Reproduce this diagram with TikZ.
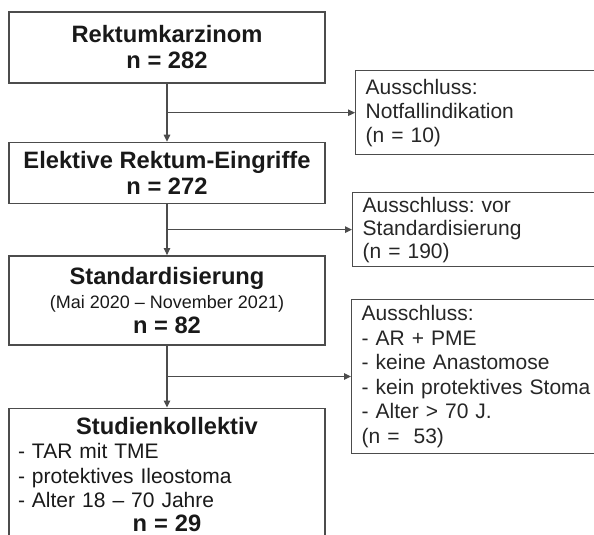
\documentclass[tikz,border=0pt]{standalone}
\usepackage{fontspec}
\setmainfont{Liberation Sans}
\frenchspacing
\usetikzlibrary{arrows.meta, positioning, calc}
\tikzset{
    box/.style={rectangle, draw=black!70, line width=1.4pt, minimum width=316pt, text centered, inner sep=0pt, font=\fontsize{23.7}{26}\selectfont\bfseries, text=black!90},
    exbox/.style={rectangle, draw=black!70, line width=1.4pt, anchor=west, text width=240pt, align=left, inner xsep=10pt, inner ysep=0pt, font=\fontsize{21}{24}\selectfont, text=black!85},
    arrow/.style={line width=1.1pt, draw=black!70, -{Triangle[length=7pt,width=6.5pt]}}
}

\begin{document}
\begin{tikzpicture}[node distance=58pt]
    \useasboundingbox (0,0) rectangle (594pt,-535pt);
    \clip (0,0) rectangle (594pt,-535pt);

    % Hauptpfad
    \node (rektum) [box, minimum height=71pt, align=center] at (167pt,-47.5pt) {Rektumkarzinom\\n = 282};
    \node (elektiv) [box, minimum height=61pt, align=center, below=58pt of rektum] {Elektive Rektum-Eingriffe\\n = 272};
    \node (standard) [box, minimum height=89pt, align=center, below=51pt of elektiv] {Standardisierung\\[-2pt]{\fontsize{18}{21}\selectfont\mdseries (Mai 2020 -- November 2021)}\\[-1pt]n = 82};
    \node (studie) [box, text width=298pt, inner xsep=9pt, inner ysep=9pt, align=left, font=\fontsize{21}{24.4}\selectfont, below=62pt of standard] {\makebox[\linewidth]{\fontsize{23.7}{26}\selectfont\bfseries Studienkollektiv}\\- TAR mit TME\\- protektives Ileostoma\\- Alter 18 -- 70 Jahre\\\makebox[\linewidth]{\fontsize{23.7}{26}\selectfont\bfseries n = 29}\\[40pt]};

    % Ausschluesse
    \coordinate (b1) at ($(rektum.south)!0.5!(elektiv.north)$);
    \coordinate (b2) at ($(elektiv.south)!0.5!(standard.north)$);
    \coordinate (b3) at ($(standard.south)!0.5!(studie.north)$);
    \node (notfall) [exbox, minimum height=84pt, right=188pt of b1] {Ausschluss:\\Notfallindikation\\(n = 10)};
    \node (vorstd) [exbox, minimum height=74pt, font=\fontsize{21}{23}\selectfont, right=185pt of b2] {Ausschluss: vor\\Standardisierung\\(n = 190)};
    \node (kriterien) [exbox, minimum height=154pt, font=\fontsize{21}{24.5}\selectfont, right=184pt of b3] {Ausschluss:\\- AR + PME\\- keine Anastomose\\- kein protektives Stoma\\- Alter > 70 J.\\(n =\ \ 53)};

    % Pfeile
    \draw[arrow] (rektum) -- (elektiv);
    \draw[arrow] (elektiv) -- (standard);
    \draw[arrow] (standard) -- (studie);
    \draw[arrow] (b1) -- (notfall);
    \draw[arrow] (b2) -- (vorstd);
    \draw[arrow] (b3) -- (kriterien);
\end{tikzpicture}
\end{document}
